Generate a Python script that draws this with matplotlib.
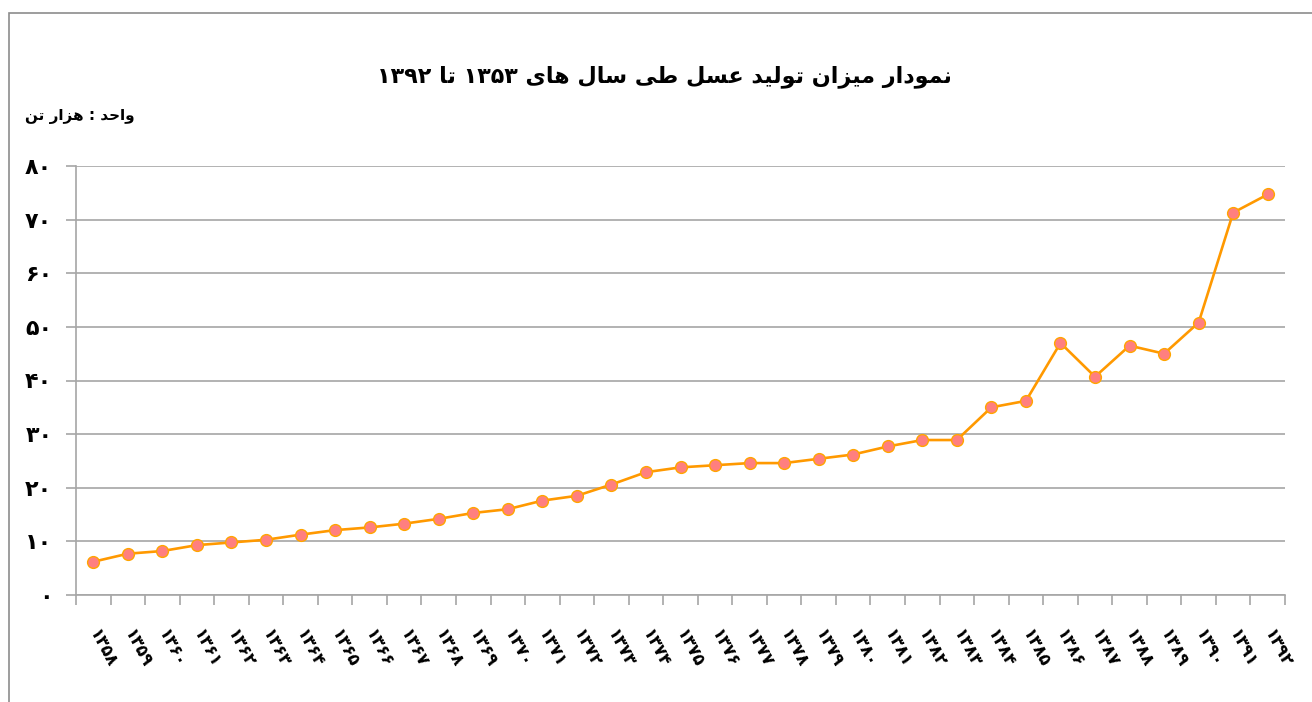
import re
import numpy as np
import matplotlib
matplotlib.use("Agg")
import matplotlib.pyplot as plt
from matplotlib.patches import Rectangle

# data (thousand tonnes of honey)
years = list(range(1358, 1393))
production = [6.2, 7.7, 8.2, 9.3, 9.8, 10.3, 11.25, 12.1, 12.6, 13.3, 14.2, 15.3,
              16.0, 17.6, 18.5, 20.6, 22.9, 23.8, 24.2, 24.6, 24.6, 25.4, 26.2,
              27.7, 28.9, 28.9, 35.0, 36.2, 47.0, 40.7, 46.5, 45.0, 50.8, 71.3, 74.7]
yticks = [0, 10, 20, 30, 40, 50, 60, 70, 80]
title = "نمودار میزان تولید عسل طی سال های ۱۳۵۳ تا ۱۳۹۲"
unit = "واحد : هزار تن"

# --- minimal arabic shaping (matplotlib has no bidi/shaping) ---
FORMS = {
    'ا': ('\uFE8D', '\uFE8E', None, None),
    'د': ('\uFEA9', '\uFEAA', None, None),
    'ر': ('\uFEAD', '\uFEAE', None, None),
    'ز': ('\uFEAF', '\uFEB0', None, None),
    'و': ('\uFEED', '\uFEEE', None, None),
    'ت': ('\uFE95', '\uFE96', '\uFE97', '\uFE98'),
    'ح': ('\uFEA1', '\uFEA2', '\uFEA3', '\uFEA4'),
    'س': ('\uFEB1', '\uFEB2', '\uFEB3', '\uFEB4'),
    'ط': ('\uFEC1', '\uFEC2', '\uFEC3', '\uFEC4'),
    'ع': ('\uFEC9', '\uFECA', '\uFECB', '\uFECC'),
    'ل': ('\uFEDD', '\uFEDE', '\uFEDF', '\uFEE0'),
    'م': ('\uFEE1', '\uFEE2', '\uFEE3', '\uFEE4'),
    'ن': ('\uFEE5', '\uFEE6', '\uFEE7', '\uFEE8'),
    'ه': ('\uFEE9', '\uFEEA', '\uFEEB', '\uFEEC'),
    'ی': ('\uFEEF', '\uFEF0', '\uFEF3', '\uFEF4'),
}


def dual(c):
    return c in FORMS and FORMS[c][2] is not None


def shape(text):
    out = []
    i = 0
    n = len(text)
    while i < n:
        ch = text[i]
        if ch not in FORMS:
            out.append(ch)
            i += 1
            continue
        prev = text[i - 1] if i > 0 else ''
        jp = dual(prev)
        if ch == 'ل' and i + 1 < n and text[i + 1] == 'ا':
            out.append('\uFEFC' if jp else '\uFEFB')
            i += 2
            continue
        nxt = text[i + 1] if i + 1 < n else ''
        jn = dual(ch) and nxt in FORMS
        iso, fin, ini, med = FORMS[ch]
        if jp and jn:
            out.append(med)
        elif jp:
            out.append(fin)
        elif jn:
            out.append(ini)
        else:
            out.append(iso)
        i += 1
    vis = ''.join(out)[::-1]
    return re.sub(r'[0-9\u06F0-\u06F9]+', lambda m: m.group(0)[::-1], vis)


fa = str.maketrans('0123456789', '۰۱۲۳۴۵۶۷۸۹')

plt.rcParams['font.family'] = ['DejaVu Sans']

fig = plt.figure(figsize=(13.12, 7.02), dpi=100)
ax = fig.add_axes([76 / 1312, 1 - 595 / 702, 1209 / 1312, 429 / 702])

x = np.arange(len(years))
ax.plot(x, production, color='#FF9900', lw=1.9, marker='o', ms=8.5,
        mfc='#FF7F7F', mec='#FFA500', mew=1.0, zorder=3)

ax.set_xlim(-0.5, len(years) - 0.5)
ax.set_ylim(0, 80)

ax.set_yticks(yticks)
ax.set_yticklabels([str(v).translate(fa) for v in yticks],
                   fontsize=16, fontweight='bold')
ax.yaxis.grid(True, color='#A6A6A6', lw=1.2)
ax.tick_params(axis='y', length=7, color='#A6A6A6', width=1.2, pad=10)

ax.set_xticks(np.arange(-0.5, len(years), 1.0))
ax.set_xticklabels([])
ax.set_xticks(x, [str(y).translate(fa) for y in years], minor=True)
ax.tick_params(axis='x', which='major', length=7, color='#A6A6A6', width=1.2)
ax.tick_params(axis='x', which='minor', length=0, pad=26)
for lab in ax.get_xticklabels(minor=True):
    lab.set_rotation(-62)
    lab.set_rotation_mode('anchor')
    lab.set_ha('left')
    lab.set_va('center')
    lab.set_fontsize(12)
    lab.set_fontweight('bold')

for s in ['top', 'right']:
    ax.spines[s].set_visible(False)
for s in ['left', 'bottom']:
    ax.spines[s].set_color('#A6A6A6')
    ax.spines[s].set_linewidth(1.2)
ax.set_axisbelow(True)

fig.text(664 / 1312, 1 - 77 / 702, shape(title), ha='center', va='center',
         fontsize=16, fontweight='heavy')
fig.text(25 / 1312, 1 - 116 / 702, shape(unit), ha='left', va='center',
         fontsize=11, fontweight='bold')

fig.patches.append(Rectangle((9 / 1312, -0.1), 1.2, 1 - 13 / 702 + 0.1,
                             transform=fig.transFigure, fill=False,
                             edgecolor='#8C8C8C', lw=1.2))

fig.savefig('out.png', dpi=100)
